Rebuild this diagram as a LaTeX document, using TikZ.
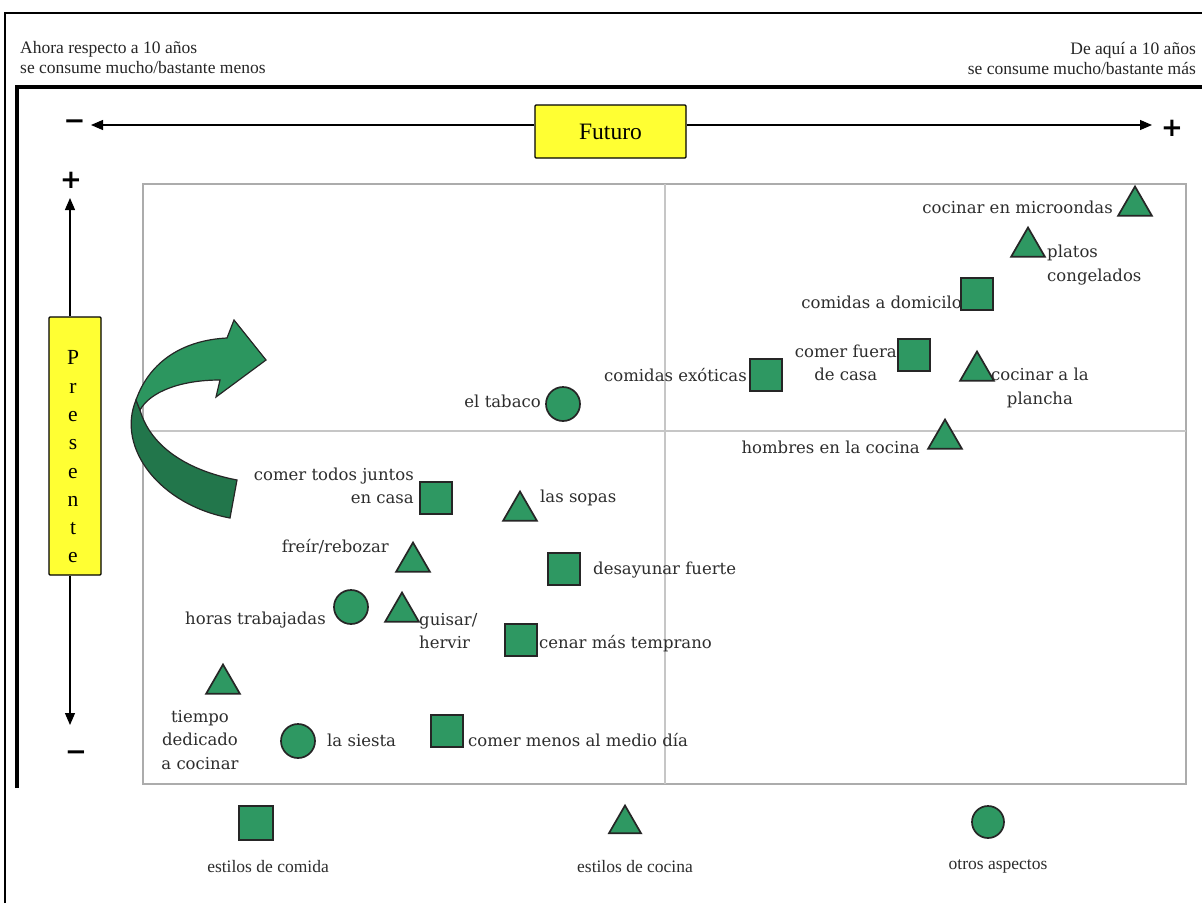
\documentclass[tikz,border=0pt]{standalone}
\usepackage{fontspec}
\setmainfont{Liberation Serif}
\newfontfamily\labfont{DejaVu Serif}
\newfontfamily\signfont{DejaVu Sans}
\usetikzlibrary{arrows.meta,shapes.geometric}
\definecolor{mkgreen}{RGB}{46,152,98}
\definecolor{arrlight}{RGB}{44,150,95}
\definecolor{arrdark}{RGB}{34,118,75}
\definecolor{futyellow}{RGB}{255,255,51}
\definecolor{labgray}{RGB}{45,45,45}
\begin{document}
\begin{tikzpicture}[x=1pt,y=-1pt,
  mk/.style={draw=black!85,line width=1.7pt,fill=mkgreen,inner sep=0pt},
  sqm/.style={mk,rectangle,minimum size=32pt},
  trim/.style={mk,regular polygon,regular polygon sides=3,minimum size=39pt},
  cirm/.style={mk,circle,minimum size=34pt},
  lab/.style={font=\labfont\fontsize{16.5}{23.5}\selectfont,text=labgray,inner sep=0pt},
  leg/.style={font=\fontsize{17.5}{20}\selectfont,text=labgray,inner sep=0pt},
  hdr/.style={font=\fontsize{17.5}{20}\selectfont,text=black!85,inner sep=0pt},
  ybox/.style={draw=black,line width=1.3pt,fill=futyellow,rounded corners=1pt,inner sep=0pt},
  axarrow/.style={line width=1.2pt,-{Triangle[length=12pt,width=10pt]}},
  sign/.style={font=\signfont\bfseries\fontsize{26}{26}\selectfont,inner sep=0pt},
  plotbox/.style={draw=gray!65,line width=2pt,inner sep=0pt}
]
\useasboundingbox (0,0) rectangle (1202,903);
\fill[white] (0,0) rectangle (1202,903);

% frames
\draw[line width=1.5pt] (5,903) -- (5,13) -- (1202,13);
\draw[line width=4.5pt] (17,788) -- (17,87) -- (1202,87);

% headers
\node[hdr,anchor=west,align=left] (hleft) at (20,58) {Ahora respecto a 10 años\\se consume mucho/bastante menos};
\node[hdr,anchor=east,align=right] (hright) at (1196,58) {De aquí a 10 años\\se consume mucho/bastante más};

% horizontal axis
\node[ybox,minimum width=151pt,minimum height=53pt,font=\fontsize{23.5}{23.5}\selectfont] (fut) at (610.5,131.5) {Futuro};
\coordinate (hl) at (91,125);
\coordinate (hr) at (1152,125);
\draw[axarrow] (fut.west |- hl) -- (hl);
\draw[axarrow] (fut.east |- hr) -- (hr);
\node[sign] (hminus) at (74.5,125) {−};
\node[sign] (hplus) at (1172,128) {+};

% vertical axis
\node[ybox,minimum width=52pt,minimum height=258pt] (pres) at (75,446) {};
\node[font=\fontsize{21.5}{28.3}\selectfont,align=center,inner sep=0pt] (prestext) at (73,457) {P\\r\\e\\s\\e\\n\\t\\e};
\coordinate (vt) at (70,198);
\coordinate (vb) at (70,725);
\draw[axarrow] (vt |- pres.north) -- (vt);
\draw[axarrow] (vb |- pres.south) -- (vb);
\node[sign] (vplus) at (71,180) {+};
\node[sign] (vminus) at (76,756) {−};

% plot frame
\node[plotbox,minimum width=1043pt,minimum height=600pt] (plot) at (664.5,484) {};
\draw[gray!45,line width=1.5pt] (665,184) -- (665,784);
\draw[gray!45,line width=1.5pt] (143,431) -- (1186,431);

% curved arrow
\fill[arrdark,draw=black!85,line width=1.2pt]
  (136,400) .. controls (116,448) and (160,505) .. (230,518)
  -- (237,480) .. controls (185,470) and (150,445) .. (140,410) -- cycle;
\fill[arrlight,draw=black!85,line width=1.2pt]
  (136,400) .. controls (150,360) and (185,340) .. (227,338)
  -- (234,320) -- (266,360) -- (216,397) -- (220,380)
  .. controls (180,380) and (150,392) .. (140,410) -- cycle;

% markers
\node[trim] (m1) at (1135,206) {};
\node[trim] (m2) at (1028,247) {};
\node[sqm] (m3) at (977,294) {};
\node[sqm] (m4) at (914,355) {};
\node[trim] (m5) at (977,371) {};
\node[sqm] (m6) at (766,375) {};
\node[cirm] (m7) at (563,404) {};
\node[trim] (m8) at (945,439) {};
\node[sqm] (m9) at (436,498) {};
\node[trim] (m10) at (520,511) {};
\node[trim] (m11) at (413,562) {};
\node[sqm] (m12) at (564,569) {};
\node[cirm] (m13) at (351,607) {};
\node[trim] (m14) at (402,612) {};
\node[sqm] (m15) at (521,640) {};
\node[trim] (m16) at (223,684) {};
\node[cirm] (m17) at (298,741) {};
\node[sqm] (m18) at (447,731) {};

% labels
\node[lab,anchor=east] (l1) at (1113,207) {cocinar en microondas};
\node[lab,anchor=west,align=left] (l2) at (1047,265) {platos\\congelados};
\node[lab,anchor=east] (l3) at (962,302) {comidas a domicilo};
\node[lab,anchor=east,align=center] (l4) at (897,363) {comer fuera\\de casa};
\node[lab,anchor=west,align=center] (l5) at (991,388) {cocinar a la\\plancha};
\node[lab,anchor=east] (l6) at (747,375) {comidas exóticas};
\node[lab,anchor=east] (l7) at (541,401) {el tabaco};
\node[lab,anchor=east] (l8) at (920,447) {hombres en la cocina};
\node[lab,anchor=east,align=right] (l9) at (414,486) {comer todos juntos\\en casa};
\node[lab,anchor=west] (l10) at (540,498) {las sopas};
\node[lab,anchor=east] (l11) at (389,547) {freír/rebozar};
\node[lab,anchor=west] (l12) at (593,570) {desayunar fuerte};
\node[lab,anchor=east] (l13) at (326,620) {horas trabajadas};
\node[lab,anchor=west,align=left] (l14) at (419,631) {guisar/\\hervir};
\node[lab,anchor=west] (l15) at (539,644) {cenar más temprano};
\node[lab,align=center] (l16) at (200,740) {tiempo\\dedicado\\a cocinar};
\node[lab,anchor=west] (l17) at (327,740) {la siesta};
\node[lab,anchor=west] (l18) at (468,740) {comer menos al medio día};

% legend
\node[sqm,minimum size=34pt] (g1) at (256,823) {};
\node[trim,minimum size=37pt] (g2) at (625,824) {};
\node[cirm,minimum size=32pt] (g3) at (988,822) {};
\node[leg] (gl1) at (268,866) {estilos de comida};
\node[leg] (gl2) at (635,866) {estilos de cocina};
\node[leg] (gl3) at (998,866) {otros aspectos};
\end{tikzpicture}
\end{document}
